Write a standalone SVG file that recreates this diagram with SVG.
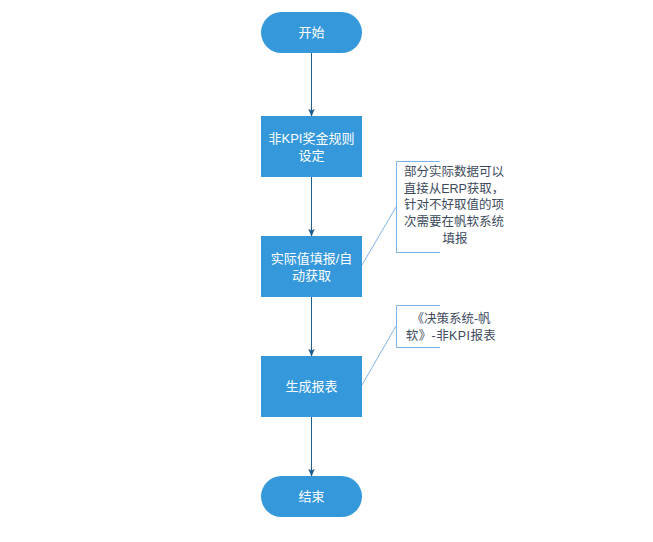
<svg xmlns="http://www.w3.org/2000/svg" width="653" height="542" viewBox="0 0 653 542">
<style>
.node{fill:#3498db;}
.nt{fill:#ffffff;font-family:"Liberation Sans","Noto Sans CJK SC",sans-serif;font-size:13px;text-anchor:middle;dominant-baseline:central;}
.at{fill:#3d4a5c;font-family:"Liberation Sans","Noto Sans CJK SC",sans-serif;font-size:12.5px;text-anchor:middle;dominant-baseline:central;}
.flow{stroke:#1f5f8f;stroke-width:1;fill:none;marker-end:url(#arr);}
.ann{stroke:#7fb3e8;stroke-width:1;fill:none;}
</style>
<defs>
<marker id="arr" viewBox="0 0 10 10" refX="9" refY="5" markerWidth="8" markerHeight="8" markerUnits="userSpaceOnUse" orient="auto">
<path d="M0,1 L10,5 L0,9 L2,5 Z" fill="#1f5f8f"/>
</marker>
</defs>
<rect width="653" height="542" fill="#ffffff"/>
<g id="connectors">
<line class="flow" x1="311.5" y1="53" x2="311.5" y2="116"/>
<line class="flow" x1="311.5" y1="177" x2="311.5" y2="236"/>
<line class="flow" x1="311.5" y1="297" x2="311.5" y2="356"/>
<line class="flow" x1="311.5" y1="417" x2="311.5" y2="476"/>
<line class="ann" x1="362" y1="265" x2="396" y2="207"/>
<line class="ann" x1="362" y1="385" x2="396" y2="326"/>
</g>
<g id="start"><rect class="node" x="261" y="12" width="101" height="41" rx="20.5"/><text class="nt" x="311.5" y="32.5">开始</text></g>
<g id="n1"><rect class="node" x="261" y="116" width="101" height="61"/><text class="nt" x="311.5" y="138">非KPI奖金规则</text><text class="nt" x="311.5" y="155">设定</text></g>
<g id="n2"><rect class="node" x="261" y="236" width="101" height="61"/><text class="nt" x="311.5" y="258">实际值填报/自</text><text class="nt" x="311.5" y="275">动获取</text></g>
<g id="n3"><rect class="node" x="261" y="356" width="101" height="61"/><text class="nt" x="311.5" y="386.5">生成报表</text></g>
<g id="end"><rect class="node" x="261" y="476" width="101" height="41" rx="20.5"/><text class="nt" x="311.5" y="496.5">结束</text></g>
<g id="note1">
<path class="ann" d="M440,161.5 H396.5 V252.5 H440"/>
<text class="at" x="454" y="172">部分实际数据可以</text>
<text class="at" x="454" y="189">直接从ERP获取，</text>
<text class="at" x="454" y="205">针对不好取值的项</text>
<text class="at" x="454" y="222">次需要在帆软系统</text>
<text class="at" x="455" y="239">填报</text>
</g>
<g id="note2">
<path class="ann" d="M440,305.5 H396.5 V347.5 H440"/>
<text class="at" x="451" y="319">《决策系统-帆</text>
<text class="at" x="451" y="336" letter-spacing="0.4">软》-非KPI报表</text>
</g>
</svg>
